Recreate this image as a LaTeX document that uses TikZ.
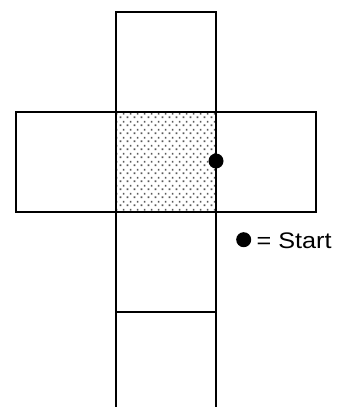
\documentclass[tikz,border=0pt]{standalone}
\usepackage{fontspec}
\setmainfont{Liberation Sans}
\usetikzlibrary{patterns}
\pgfdeclarepatternformonly{mydots}{\pgfqpoint{0pt}{0pt}}{\pgfqpoint{7pt}{8pt}}{\pgfqpoint{7pt}{8pt}}{%
  \pgfpathrectangle{\pgfqpoint{0.75pt}{1pt}}{\pgfqpoint{1.8pt}{1.8pt}}%
  \pgfpathrectangle{\pgfqpoint{4.25pt}{5pt}}{\pgfqpoint{1.8pt}{1.8pt}}%
  \pgfusepath{fill}}
\tikzset{
  face/.style={draw=black, line width=1.6pt},
  shaded/.style={face, pattern=mydots, pattern color=black!65},
  startdot/.style={circle, fill=black, inner sep=0pt, minimum size=#1},
  legend/.style={font=\fontsize{22.5}{26}\selectfont, inner sep=0pt, anchor=base west, xscale=1.12}
}
\begin{document}
\begin{tikzpicture}[x=1pt, y=-1pt]
\useasboundingbox (0,0) rectangle (342,407);
% faces
\draw[face] (116,12) rectangle (216,112);
\draw[face] (16,112) rectangle (116,212);
\draw[shaded] (116,112) rectangle (216,212);
\draw[face] (216,112) rectangle (316,212);
\draw[face] (116,212) rectangle (216,312);
\draw[face] (116,407) -- (116,312) -- (216,312) -- (216,407);
% start dot
\node[startdot=15pt] (start) at (216,161) {};
% legend
\node[startdot=15pt] (ldot) at (243.7,239.7) {};
\node[legend] (ltext) at (256.5,248.6) {= Start};
\end{tikzpicture}
\end{document}
